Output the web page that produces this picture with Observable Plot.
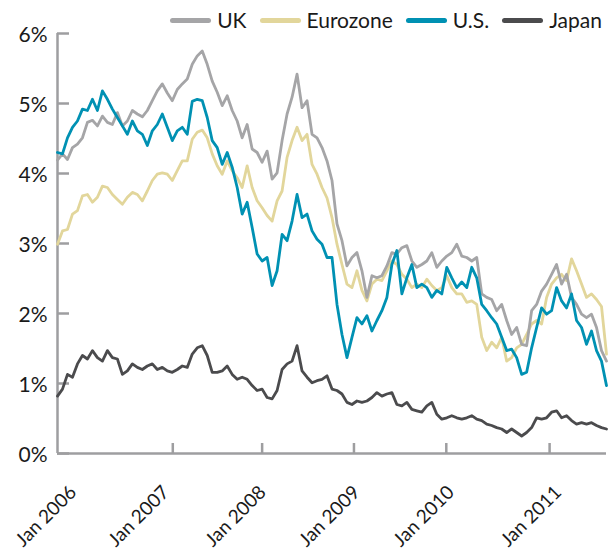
<!DOCTYPE html>
<html><head><meta charset="utf-8">
<script src="https://cdn.jsdelivr.net/npm/d3@7"></script>
<script src="https://cdn.jsdelivr.net/npm/@observablehq/plot@0.6"></script>
<style>
body{margin:0;background:#fff;font-family:Lato,sans-serif;}
#wrap{position:relative;width:610px;height:552px;}
#legend{position:absolute;top:7px;right:8px;display:flex;align-items:center;font-size:21px;color:#1a1a1a;line-height:26px;z-index:2;}
.item{display:flex;align-items:center;margin-left:13px}
.sw{width:41px;height:5px;border-radius:3px;margin-right:6px}
</style></head><body><div id="wrap"><div id="legend"></div></div>
<script>
const series = ["UK", "Eurozone", "U.S.", "Japan"];
const colors = ["#a5a5a7", "#e2d69b", "#0091b3", "#4b4b4d"];

const uk = [4.19,4.28,4.20,4.37,4.42,4.51,4.73,4.76,4.68,4.82,4.73,4.70,4.87,4.68,4.75,4.90,4.85,4.81,4.90,5.04,5.18,5.28,5.15,5.04,5.20,5.28,5.35,5.56,
5.68,5.75,5.56,5.32,5.16,4.97,5.11,4.90,4.75,4.51,4.70,4.35,4.30,4.16,4.32,3.92,4.01,4.47,4.85,5.09,5.42,4.94,5.04,4.56,4.51,4.37,4.18,
3.90,3.28,3.04,2.68,2.80,2.87,2.61,2.23,2.54,2.51,2.54,2.68,2.87,2.85,2.94,2.97,2.75,2.66,2.70,2.75,2.87,2.66,2.75,2.82,2.87,2.99,2.82,
2.80,2.75,2.80,2.28,2.23,2.20,2.04,2.13,1.90,1.70,1.80,1.56,1.54,2.04,2.13,2.32,2.42,2.56,2.70,2.42,2.56,2.23,2.13,1.99,1.94,1.99,1.80,1.47,1.32];

const eurozone = [2.99,3.18,3.20,3.42,3.47,3.68,3.70,3.59,3.66,3.82,3.80,3.70,3.63,3.56,3.66,3.73,3.70,3.61,3.75,3.90,3.99,4.01,3.99,3.90,4.04,4.18,4.18,4.49,
4.59,4.62,4.51,4.28,4.11,3.99,4.18,4.04,3.94,3.80,4.11,3.80,3.61,3.51,3.40,3.32,3.61,3.75,4.23,4.47,4.66,4.47,4.56,4.13,3.99,3.80,3.65,
3.37,2.99,2.70,2.42,2.37,2.61,2.33,2.18,2.42,2.49,2.47,2.61,2.75,2.70,2.56,2.49,2.37,2.42,2.37,2.49,2.40,2.33,2.37,2.54,2.37,2.28,2.28,
2.16,2.18,2.13,1.66,1.47,1.59,1.51,1.66,1.32,1.37,1.51,1.56,1.70,1.85,1.90,1.85,2.23,2.42,2.51,2.56,2.47,2.78,2.61,2.42,2.23,2.28,2.20,2.10,1.42];

const us = [4.30,4.28,4.51,4.66,4.75,4.92,4.90,5.06,4.90,5.18,5.06,4.92,4.80,4.68,4.56,4.75,4.61,4.56,4.40,4.61,4.70,4.85,4.66,4.47,4.61,4.66,4.56,5.03,
5.06,5.04,4.80,4.47,4.37,4.13,4.30,4.09,3.80,3.42,3.59,3.23,2.85,2.75,2.80,2.40,2.61,3.13,3.04,3.32,3.70,3.37,3.42,3.18,3.06,2.99,2.80,
2.80,2.13,1.70,1.37,1.66,1.94,1.85,1.97,1.75,1.90,2.04,2.23,2.70,2.90,2.28,2.51,2.70,2.37,2.42,2.37,2.23,2.33,2.28,2.66,2.51,2.37,2.45,
2.37,2.66,2.51,2.13,2.04,1.94,1.85,1.66,1.47,1.49,1.37,1.13,1.16,1.51,1.80,2.08,1.99,2.04,2.37,2.18,2.08,2.28,1.90,1.80,1.56,1.75,1.47,1.32,0.97];

const japan = [0.82,0.92,1.13,1.09,1.28,1.40,1.35,1.47,1.37,1.32,1.47,1.37,1.35,1.13,1.18,1.28,1.23,1.20,1.25,1.28,1.20,1.23,1.18,1.16,1.20,1.25,1.23,1.42,
1.51,1.54,1.40,1.16,1.16,1.18,1.25,1.13,1.06,1.09,1.06,0.97,0.90,0.92,0.80,0.78,0.90,1.20,1.28,1.32,1.54,1.18,1.09,1.01,1.04,1.06,1.11,
0.92,0.90,0.85,0.73,0.70,0.75,0.73,0.75,0.80,0.87,0.82,0.85,0.87,0.70,0.68,0.73,0.63,0.61,0.59,0.68,0.73,0.56,0.49,0.51,0.54,0.51,0.49,
0.51,0.54,0.49,0.47,0.42,0.40,0.37,0.35,0.30,0.35,0.30,0.25,0.30,0.37,0.51,0.49,0.51,0.59,0.61,0.51,0.54,0.47,0.42,0.44,0.42,0.44,0.40,0.37,0.35];

const yTicks = [0, 1, 2, 3, 4, 5, 6];
const xTickIdx = [23.1, 41.0, 59.4, 77.9, 98.6];
const xLabelIdx = [3.8, 22.4, 41.8, 60.6, 79.5, 101.0];
const xLabels = ["Jan 2006", "Jan 2007", "Jan 2008", "Jan 2009", "Jan 2010", "Jan 2011"];

const values = [uk, eurozone, us, japan];
const drawOrder = [1, 0, 2, 3];
const rows = vals => vals.map((v, i) => ({i, v}));
const axisColor = "#9e9ea0";
const W = 610, H = 552, mT = 33, mB = 99, mL = 57, mR = 4;
const frameW = W - mL - mR, frameH = H - mT - mB;

const chart = Plot.plot({
  width: W, height: H, marginTop: mT, marginBottom: mB, marginLeft: mL, marginRight: mR,
  style: {fontFamily: "Lato, sans-serif", fontSize: "21px", color: "#1a1a1a", background: "#fff", overflow: "visible"},
  x: {domain: [0, uk.length - 1], axis: null},
  y: {domain: [0, 6], axis: null},
  marks: [
    Plot.ruleX([0], {y1: 0, y2: 6, stroke: axisColor, strokeWidth: 2.5}),
    Plot.ruleY([0], {stroke: axisColor, strokeWidth: 2.5}),
    Plot.tickY(yTicks, {y: d => d, stroke: axisColor, strokeWidth: 2.5, insetRight: frameW - 12}),
    Plot.tickX(xTickIdx, {x: d => d, stroke: axisColor, strokeWidth: 2.5, insetTop: frameH - 10}),
    Plot.text(yTicks, {y: d => d, text: d => d + "%", frameAnchor: "left", textAnchor: "end", dx: -10, dy: 2, fill: "#1a1a1a"}),
    Plot.text(xLabelIdx, {x: d => d, text: (d, i) => xLabels[i], frameAnchor: "bottom", textAnchor: "end", lineAnchor: "bottom", rotate: -45, dy: 40, dx: 1, fontSize: 19, fill: "#1a1a1a"}),
    ...drawOrder.map(s => Plot.line(rows(values[s]), {x: "i", y: "v", stroke: colors[s], strokeWidth: 2.8, strokeLinejoin: "round", strokeLinecap: "round"}))
  ]
});
document.getElementById("wrap").appendChild(chart);

const legend = document.getElementById("legend");
series.forEach((name, k) => {
  const it = document.createElement("div");
  it.className = "item";
  const sw = document.createElement("span");
  sw.className = "sw";
  sw.style.background = colors[k];
  const tx = document.createElement("span");
  tx.textContent = name;
  it.appendChild(sw); it.appendChild(tx);
  legend.appendChild(it);
});
</script>
</body></html>
